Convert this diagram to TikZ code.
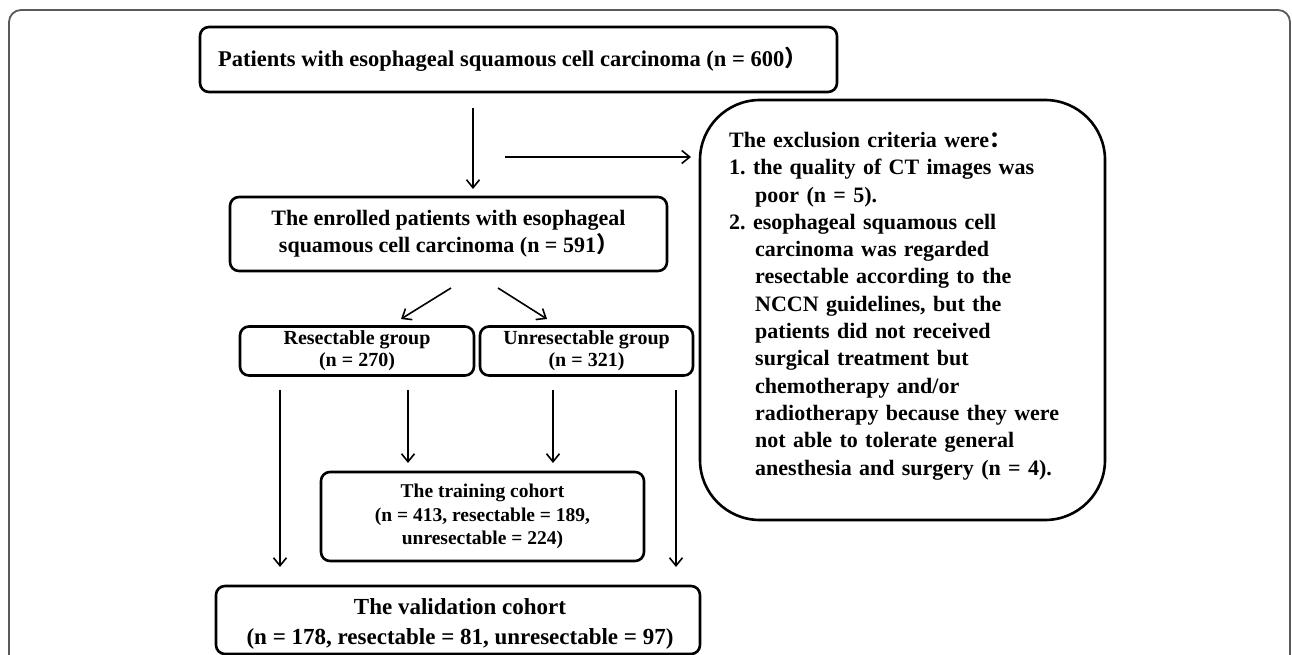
\documentclass[tikz,border=0pt]{standalone}
\usepackage{fontspec}
\setmainfont{Liberation Serif}
\newfontfamily\cjk{Noto Sans CJK SC}
\usetikzlibrary{arrows.meta}
\tikzset{
  box/.style={draw=black, line width=2.6pt, rounded corners=9pt, inner sep=0pt, align=center, font=\bfseries},
  arr/.style={draw=black, line width=1.6pt, -{Straight Barb[length=8pt,width=13pt,line width=1.6pt]}},
  frame/.style={draw=black!65, line width=1.8pt, rounded corners=12pt}
}
\begin{document}
\begin{tikzpicture}[x=1pt,y=-1pt]
\useasboundingbox (0,0) rectangle (1292,655);
\clip (0,0) rectangle (1292,655);
\fill[white] (0,0) rectangle (1292,655);
\draw[frame] (9,10) rectangle (1290,720);

\node[box, minimum width=637pt, minimum height=65pt] (top) at (518.5,59.5) {};
\node[font=\bfseries\fontsize{22.5}{26}\selectfont, inner sep=0pt] (toptext) at (512.5,59.5)
  {Patients with esophageal squamous cell carcinoma (n = 600{\cjk ）}};
\node[box, minimum width=437pt, minimum height=74pt, font=\bfseries\fontsize{22}{27}\selectfont] (enr) at (448.5,234)
  {The enrolled patients with esophageal\\squamous cell carcinoma (n = 591{\cjk ）}};
\node[box, minimum width=234pt, minimum height=49pt, font=\bfseries\fontsize{20}{22}\selectfont] (res) at (357,351)
  {Resectable group\\(n = 270)};
\node[box, minimum width=213pt, minimum height=49pt, font=\bfseries\fontsize{20}{22}\selectfont] (unres) at (586.5,351)
  {Unresectable group\\(n = 321)};
\node[box, minimum width=323pt, minimum height=89pt, font=\bfseries\fontsize{19.5}{23.5}\selectfont] (train) at (482.5,516.5)
  {The training cohort\\(n = 413, resectable = 189,\\unresectable = 224)};
\node[box, minimum width=484pt, minimum height=68pt, font=\bfseries\fontsize{23}{30}\selectfont] (valid) at (458,620) {};
\node[font=\bfseries\fontsize{23}{30}\selectfont, inner sep=0pt, align=center] (validtext) at (460,624)
  {The validation cohort\\(n = 178, resectable = 81, unresectable = 97)};
\node[box, rounded corners=60pt, minimum width=405pt, minimum height=420pt] (excl) at (902.5,310) {};
\node[anchor=north west, inner sep=0pt, align=left, font=\bfseries\fontsize{22}{27.3}\selectfont, text width=370pt] (exctext) at (729,132)
  {The exclusion criteria were{\cjk ：}\\
   1.\ the quality of CT images was\\
   \hspace*{26pt}poor (n = 5).\\
   2.\ esophageal squamous cell\\
   \hspace*{26pt}carcinoma was regarded\\
   \hspace*{26pt}resectable according to the\\
   \hspace*{26pt}NCCN guidelines, but the\\
   \hspace*{26pt}patients did not received\\
   \hspace*{26pt}surgical treatment but\\
   \hspace*{26pt}chemotherapy and/or\\
   \hspace*{26pt}radiotherapy because they were\\
   \hspace*{26pt}not able to tolerate general\\
   \hspace*{26pt}anesthesia and surgery (n = 4).};

\coordinate (a1s) at (473,108); \coordinate (a1e) at (473,189);
\coordinate (a2s) at (505,157); \coordinate (a2e) at (691,157);
\coordinate (d1s) at (451,288); \coordinate (d1e) at (401,319);
\coordinate (d2s) at (498,288); \coordinate (d2e) at (547,319);
\coordinate (v1s) at (280,390); \coordinate (v1e) at (280,567);
\coordinate (v2s) at (408,390); \coordinate (v2e) at (408,463);
\coordinate (v3s) at (553,390); \coordinate (v3e) at (553,463);
\coordinate (v4s) at (676,390); \coordinate (v4e) at (676,567);

\draw[arr] (a1s) -- (a1e);
\draw[arr] (a2s) -- (a2e);
\draw[arr] (d1s) -- (d1e);
\draw[arr] (d2s) -- (d2e);
\draw[arr] (v1s) -- (v1e);
\draw[arr] (v2s) -- (v2e);
\draw[arr] (v3s) -- (v3e);
\draw[arr] (v4s) -- (v4e);
\end{tikzpicture}
\end{document}
